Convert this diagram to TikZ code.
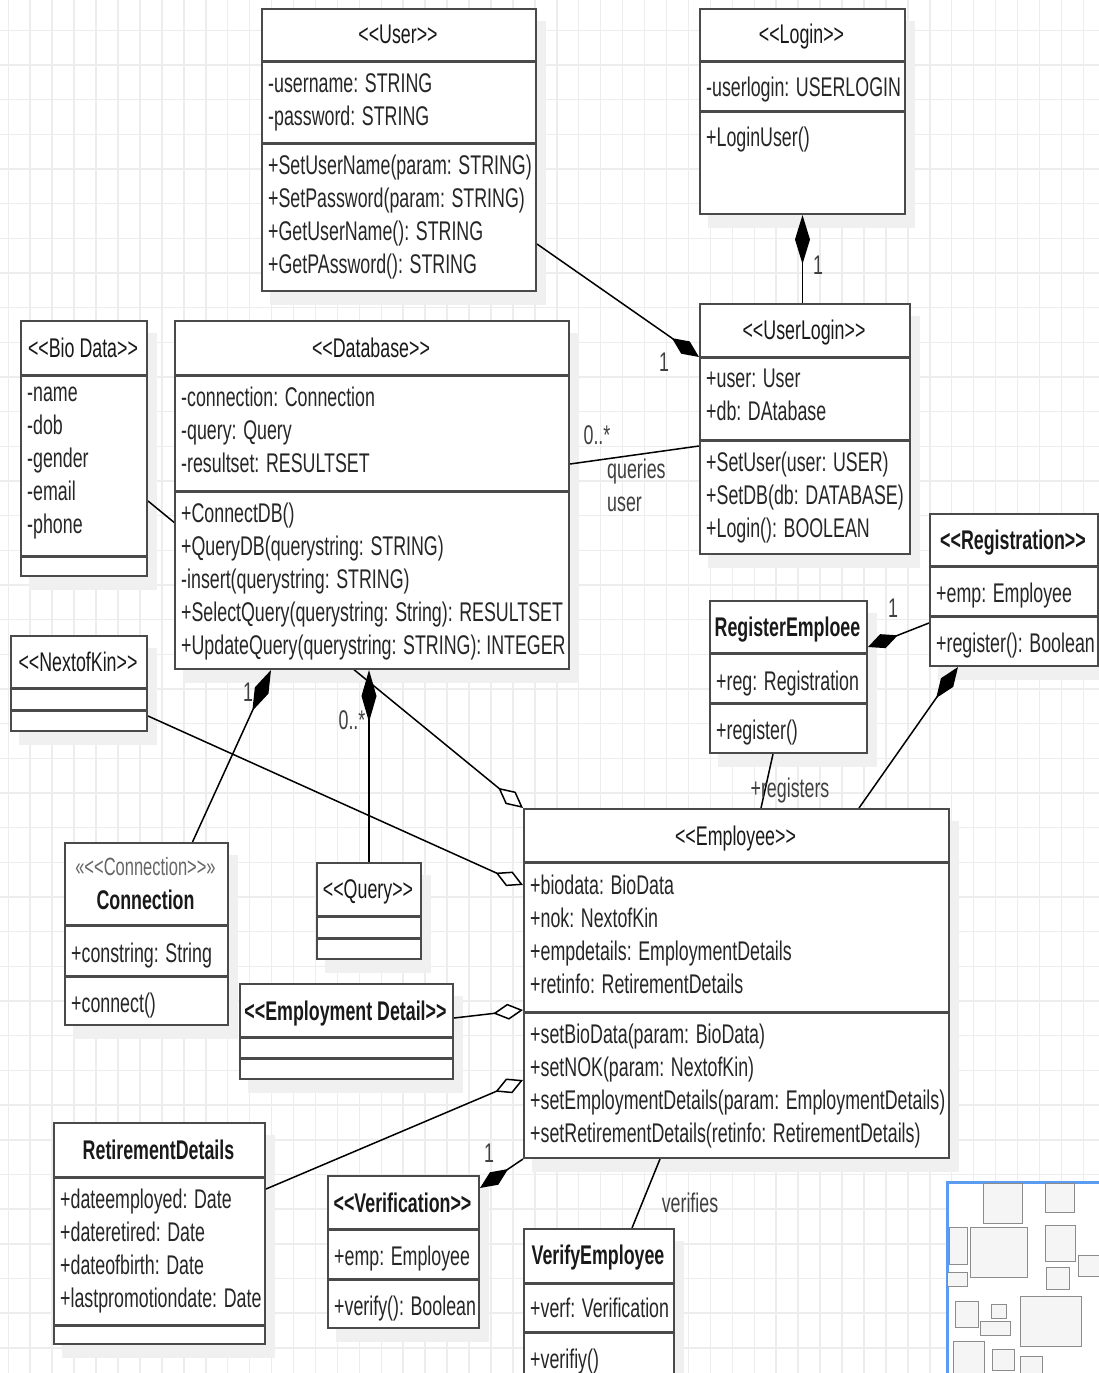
\documentclass[tikz,border=0pt]{standalone}
\usepackage{fontspec}
\setmainfont[FakeStretch=0.66,Ligatures=TeXOff]{Liberation Sans}
\usepackage{tikz}
\usetikzlibrary{arrows.meta,calc}
\newcommand{\umlfont}{\fontsize{27}{33}\selectfont}
\newcommand{\stereofont}{\fontsize{25}{30}\selectfont}
\definecolor{boxline}{HTML}{4A4A4A}
\definecolor{gridgray}{HTML}{EDEDED}
\definecolor{viewblue}{HTML}{5B9BF0}
\pgfdeclarelayer{grid}
\pgfdeclarelayer{background}
\pgfsetlayers{grid,background,main}

\begin{document}
\begin{tikzpicture}
  [
    x=1pt, y=-1pt,
    classbox/.style={draw=boxline, line width=2pt, fill=white, anchor=north west, inner sep=0pt},
    classname/.style={anchor=base, inner sep=0pt, font=\umlfont, text=black!90},
    boldname/.style={classname, font=\umlfont\bfseries},
    members/.style={anchor=north west, align=left, inner sep=0pt, font=\umlfont, text=black!85,
      execute at begin node=\strut},
    sep/.style={draw=boxline, line width=3pt},
    assoc/.style={draw, line width=1.5pt},
    comp/.style={assoc, -{Diamond[fill=black, length=#1, width=15pt]}},
    comp/.default=32pt,
    aggr/.style={assoc, -{Diamond[fill=white, length=#1, width=16pt]}},
    aggr/.default=30pt,
    mult/.style={font=\umlfont, text=black!75, inner sep=0pt},
    gridline/.style={draw=gridgray, line width=1.5pt},
    boxshadow/.style={fill=black!6},
    minibox/.style={draw=black!45, line width=0.6pt, fill=black!4}
  ]
  \useasboundingbox (0,0) rectangle (1099,1373);
  % Grid
  \begin{pgfonlayer}{grid}
    \fill[white] (0,0) rectangle (1099,1373);
    \foreach \gx in {0,...,49}
      \draw[gridline] ({8.3+21.94*\gx},0) -- ++(0,1373);
    \foreach \gy in {0,...,39}
      \draw[gridline] (0,{30.3+34.67*\gy}) -- ++(1099,0);
  \end{pgfonlayer}

  % Classes
  \node[classbox, minimum width=274, minimum height=282] (user) at (261,8) {};
  \node[classname] (user-t) at (398,43) {<<User>>};
  \draw[sep] (user.west |- 0,61) -- (user.east |- 0,61);
  \draw[sep] (user.west |- 0,143) -- (user.east |- 0,143);
  \node[members] (user-a) at (268,73) {-username: STRING\\-password: STRING};
  \node[members] (user-m) at (268,155) {+SetUserName(param: STRING)\\+SetPassword(param: STRING)\\+GetUserName(): STRING\\+GetPAssword(): STRING};

  \node[classbox, minimum width=205, minimum height=205] (login) at (699,8) {};
  \node[classname] (login-t) at (801.5,43) {<<Login>>};
  \draw[sep] (login.west |- 0,61) -- (login.east |- 0,61);
  \draw[sep] (login.west |- 0,111) -- (login.east |- 0,111);
  \node[members] (login-a) at (706,73) {-userlogin: USERLOGIN};
  \node[members] (login-m) at (706,123) {+LoginUser()};

  \node[classbox, minimum width=210, minimum height=250] (userlogin) at (699,303) {};
  \node[classname] (userlogin-t) at (804,339) {<<UserLogin>>};
  \draw[sep] (userlogin.west |- 0,357) -- (userlogin.east |- 0,357);
  \draw[sep] (userlogin.west |- 0,440) -- (userlogin.east |- 0,440);
  \node[members] (userlogin-a) at (706,369) {+user: User\\+db: DAtabase};
  \node[members] (userlogin-m) at (706,452) {+SetUser(user: USER)\\+SetDB(db: DATABASE)\\+Login(): BOOLEAN};

  \node[classbox, minimum width=126, minimum height=255] (biodata) at (20,320) {};
  \node[classname] (biodata-t) at (83,357) {<<Bio Data>>};
  \draw[sep] (biodata.west |- 0,375) -- (biodata.east |- 0,375);
  \draw[sep] (biodata.west |- 0,556) -- (biodata.east |- 0,556);
  \node[members] (biodata-a) at (27,387) {-name\\-dob\\-gender\\-email\\-phone};

  \node[classbox, minimum width=394, minimum height=348] (database) at (174,320) {};
  \node[classname] (database-t) at (371,357) {<<Database>>};
  \draw[sep] (database.west |- 0,375) -- (database.east |- 0,375);
  \draw[sep] (database.west |- 0,491) -- (database.east |- 0,491);
  \node[members] (database-a) at (181,387) {-connection: Connection\\-query: Query\\-resultset: RESULTSET};
  \node[members] (database-m) at (181,503) {+ConnectDB()\\+QueryDB(querystring: STRING)\\-insert(querystring: STRING)\\+SelectQuery(querystring: String): RESULTSET\\+UpdateQuery(querystring: STRING): INTEGER};

  \node[classbox, minimum width=136, minimum height=95] (nextofkin) at (10,635) {};
  \node[classname] (nextofkin-t) at (78,671) {<<NextofKin>>};
  \draw[sep] (nextofkin.west |- 0,688) -- (nextofkin.east |- 0,688);
  \draw[sep] (nextofkin.west |- 0,710) -- (nextofkin.east |- 0,710);

  \node[classbox, minimum width=168, minimum height=152] (registration) at (929,513) {};
  \node[boldname] (registration-t) at (1013,549) {<<Registration>>};
  \draw[sep] (registration.west |- 0,566) -- (registration.east |- 0,566);
  \draw[sep] (registration.west |- 0,616) -- (registration.east |- 0,616);
  \node[members] (registration-a) at (936,579) {+emp: Employee};
  \node[members] (registration-m) at (936,629) {+register(): Boolean};

  \node[classbox, minimum width=157, minimum height=152] (registeremploee) at (709,600) {};
  \node[boldname] (registeremploee-t) at (787.5,636) {RegisterEmploee};
  \draw[sep] (registeremploee.west |- 0,653) -- (registeremploee.east |- 0,653);
  \draw[sep] (registeremploee.west |- 0,703) -- (registeremploee.east |- 0,703);
  \node[members] (registeremploee-a) at (716,667) {+reg: Registration};
  \node[members] (registeremploee-m) at (716,716) {+register()};

  \node[classbox, minimum width=163, minimum height=182] (connection) at (64,842) {};
  \node[classname, font=\stereofont, text=black!60] (connection-s) at (145.5,875) {«<<Connection>>»};
  \node[boldname] (connection-t) at (145.5,909) {Connection};
  \draw[sep] (connection.west |- 0,925) -- (connection.east |- 0,925);
  \draw[sep] (connection.west |- 0,976) -- (connection.east |- 0,976);
  \node[members] (connection-a) at (71,939) {+constring: String};
  \node[members] (connection-m) at (71,989) {+connect()};

  \node[classbox, minimum width=104, minimum height=96] (query) at (316,862) {};
  \node[classname] (query-t) at (368,898) {<<Query>>};
  \draw[sep] (query.west |- 0,916) -- (query.east |- 0,916);
  \draw[sep] (query.west |- 0,938) -- (query.east |- 0,938);

  \node[classbox, minimum width=213, minimum height=95] (employment) at (239,983) {};
  \node[boldname] (employment-t) at (345.5,1020) {<<Employment Detail>>};
  \draw[sep] (employment.west |- 0,1037) -- (employment.east |- 0,1037);
  \draw[sep] (employment.west |- 0,1058) -- (employment.east |- 0,1058);

  \node[classbox, minimum width=425, minimum height=349] (employee) at (523,808) {};
  \node[classname] (employee-t) at (735.5,845) {<<Employee>>};
  \draw[sep] (employee.west |- 0,862) -- (employee.east |- 0,862);
  \draw[sep] (employee.west |- 0,1012) -- (employee.east |- 0,1012);
  \node[members] (employee-a) at (530,875) {+biodata: BioData\\+nok: NextofKin\\+empdetails: EmploymentDetails\\+retinfo: RetirementDetails};
  \node[members] (employee-m) at (530,1024) {+setBioData(param: BioData)\\+setNOK(param: NextofKin)\\+setEmploymentDetails(param: EmploymentDetails)\\+setRetirementDetails(retinfo: RetirementDetails)};

  \node[classbox, minimum width=211, minimum height=221] (retirement) at (53,1122) {};
  \node[boldname] (retirement-t) at (158.5,1159) {RetirementDetails};
  \draw[sep] (retirement.west |- 0,1177) -- (retirement.east |- 0,1177);
  \draw[sep] (retirement.west |- 0,1325) -- (retirement.east |- 0,1325);
  \node[members] (retirement-a) at (60,1189) {+dateemployed: Date\\+dateretired: Date\\+dateofbirth: Date\\+lastpromotiondate: Date};

  \node[classbox, minimum width=151, minimum height=152] (verification) at (327,1175) {};
  \node[boldname] (verification-t) at (402.5,1212) {<<Verification>>};
  \draw[sep] (verification.west |- 0,1229) -- (verification.east |- 0,1229);
  \draw[sep] (verification.west |- 0,1279) -- (verification.east |- 0,1279);
  \node[members] (verification-a) at (334,1242) {+emp: Employee};
  \node[members] (verification-m) at (334,1292) {+verify(): Boolean};

  \node[classbox, minimum width=150, minimum height=160] (verifyemployee) at (523,1228) {};
  \node[boldname] (verifyemployee-t) at (598,1264) {VerifyEmployee};
  \draw[sep] (verifyemployee.west |- 0,1283) -- (verifyemployee.east |- 0,1283);
  \draw[sep] (verifyemployee.west |- 0,1332) -- (verifyemployee.east |- 0,1332);
  \node[members] (verifyemployee-a) at (530,1294) {+verf: Verification};
  \node[members] (verifyemployee-m) at (530,1345) {+verifiy()};

  % Shadows, under the connectors
  \begin{pgfonlayer}{grid}
    \foreach \c in {user,login,userlogin,biodata,database,nextofkin,registration,registeremploee,connection,query,employment,employee,retirement,verification,verifyemployee}
      \fill[boxshadow] ([shift={(9,13)}]\c.north west) rectangle ([shift={(9,13)}]\c.south east);
  \end{pgfonlayer}

  % Associations
  \begin{pgfonlayer}{background}
    \draw[comp=33pt] ([yshift=-94]user.east) -- ([yshift=-54]userlogin.north west);
    \draw[comp=49pt] (login.south |- userlogin.north) -- (login.south);
    \draw[assoc] ([yshift=31]database.east) -- ([yshift=-17]userlogin.west);
    \draw[aggr=32pt] ([yshift=-52.5]biodata.east) -- (employee.north west);
    \draw[aggr] ([yshift=-32.5]nextofkin.east) -- ([yshift=-77]employee.north west);
    \draw[comp=45pt] ([xshift=46]connection.north) -- ([xshift=-101]database.south);
    \draw[comp=52pt] (query.north) -- (query.north |- database.south);
    \draw[aggr] ([yshift=13.5]employment.east) -- ([yshift=-202]employee.north west);
    \draw[aggr] ([yshift=44.5]retirement.east) -- ([yshift=-272]employee.north west);
    \draw[comp=34pt] (employee.south west) -- ([yshift=-13]verification.north east);
    \draw[assoc] ([xshift=-76.5]employee.south) -- ([xshift=33]verifyemployee.north);
    \draw[assoc] ([xshift=-15.5]registeremploee.south) -- ([xshift=24.5]employee.north);
    \draw[comp] ([yshift=-33]registration.west) -- ([yshift=30]registeremploee.east);
    \draw[comp=38pt] ([xshift=122.5]employee.north) -- ([xshift=-56]registration.south);
  \end{pgfonlayer}

  % Multiplicities and role names
  \node[mult] (m-login) at (818,265) {1};
  \node[mult] (m-user) at (664,362) {1};
  \node[mult] (m-queries) at (597,435) {0..*};
  \node[mult, anchor=north west, align=left, execute at begin node=\strut] (r-queries) at (607,459) {queries\\user};
  \node[mult] (m-conn) at (248,692) {1};
  \node[mult] (m-query) at (352,720) {0..*};
  \node[mult] (m-reg) at (893,608) {1};
  \node[mult] (r-registers) at (790,791) {+registers};
  \node[mult] (m-verif) at (489,1153) {1};
  \node[mult] (r-verifies) at (690,1203) {verifies};

  % Overview panel
  \coordinate (fix) at (1102.6,1377.6);
  \node[draw=viewblue, line width=3pt, fill=white, anchor=north west, minimum width=170, minimum height=210] (overview) at (946,1181) {};
  \foreach \c in {user,login,userlogin,biodata,database,nextofkin,registration,registeremploee,connection,query,employment,employee,retirement,verification,verifyemployee}
    \draw[minibox] ($(fix)!0.142!(\c.north west)$) rectangle ($(fix)!0.142!(\c.south east)$);
\end{tikzpicture}
\end{document}
